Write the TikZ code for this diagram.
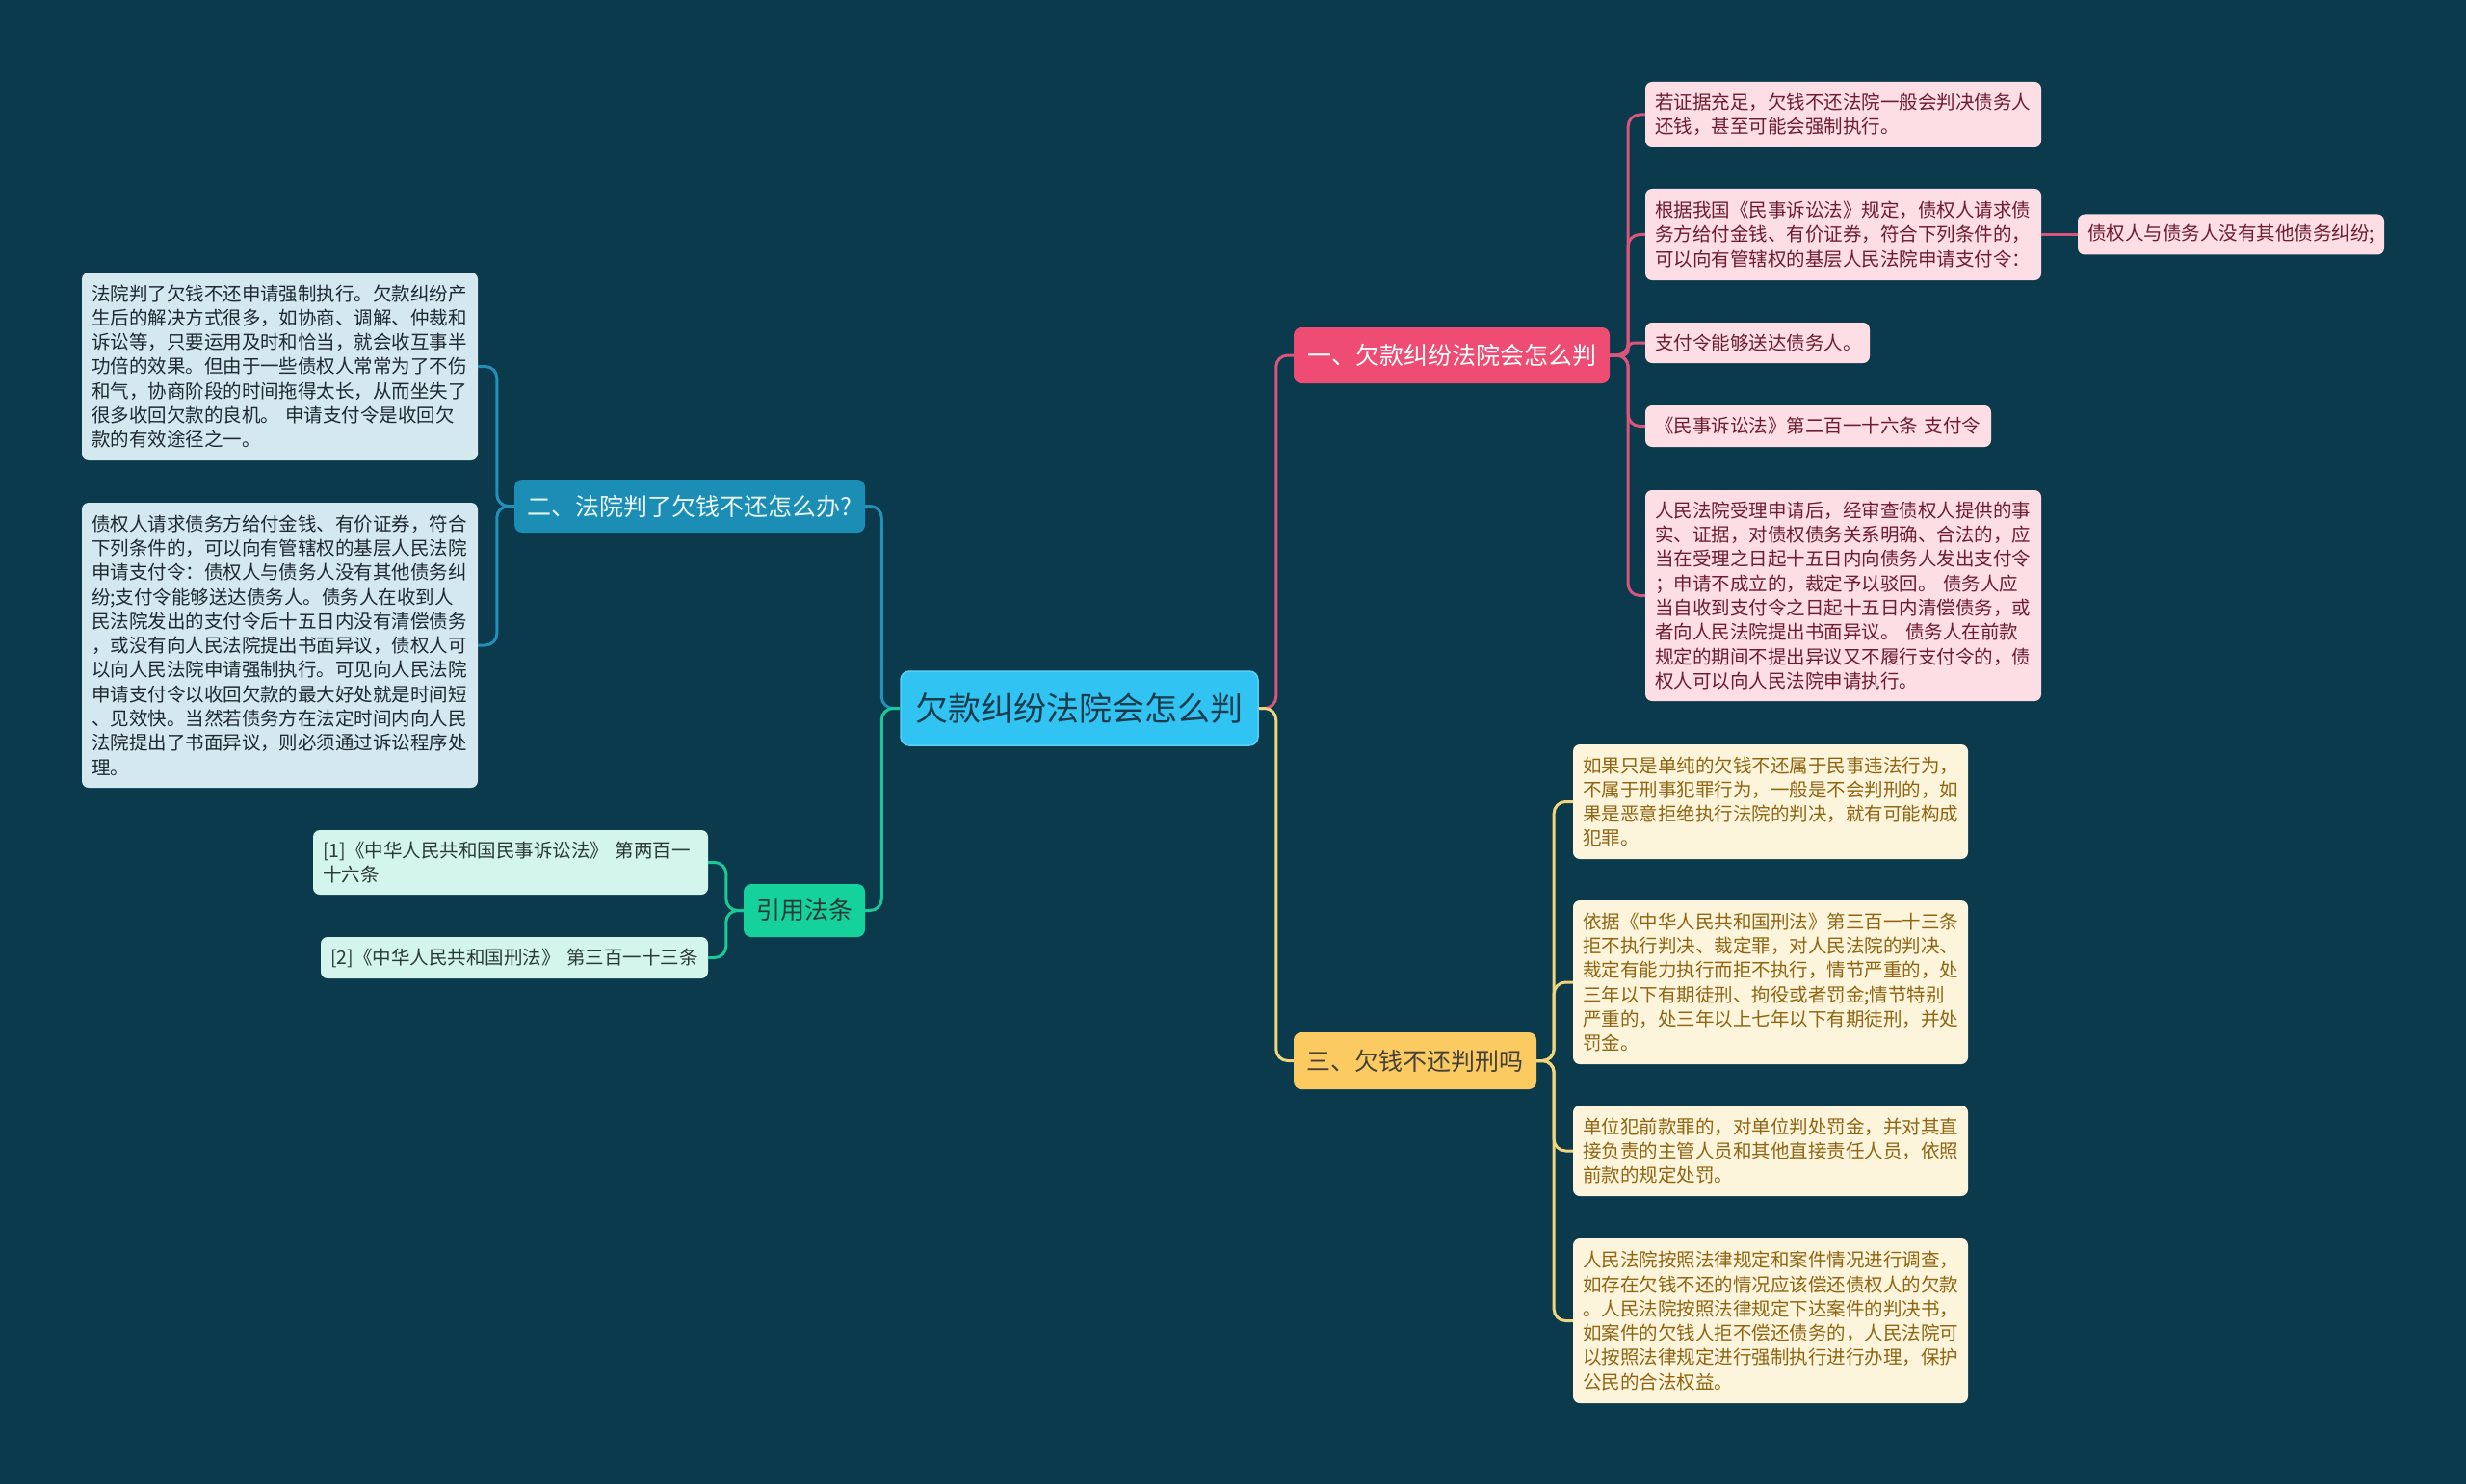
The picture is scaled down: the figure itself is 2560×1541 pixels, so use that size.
\documentclass[tikz,border=0pt]{standalone}
\usepackage{fontspec}
\setmainfont{Noto Sans CJK SC}
\definecolor{bg}{HTML}{0A3A4C}
\definecolor{cfill}{HTML}{31C4F2}
\definecolor{ctext}{HTML}{1B3C4C}
\definecolor{pkfill}{HTML}{EE4C72}
\definecolor{pkline}{HTML}{D9557C}
\definecolor{pkleaf}{HTML}{FCDEE4}
\definecolor{pktext}{HTML}{6E1C30}
\definecolor{blfill}{HTML}{1C8DB4}
\definecolor{blline}{HTML}{2290B8}
\definecolor{blleaf}{HTML}{D3E8EF}
\definecolor{bltext}{HTML}{1E2A30}
\definecolor{grfill}{HTML}{15D29D}
\definecolor{grline}{HTML}{19C998}
\definecolor{grleaf}{HTML}{D3F5EB}
\definecolor{grtext}{HTML}{2A3A36}
\definecolor{ywfill}{HTML}{FBCB62}
\definecolor{ywline}{HTML}{F1D57A}
\definecolor{ywleaf}{HTML}{FDF4DC}
\definecolor{ywtext}{HTML}{8F6512}
\tikzset{
  leafbox/.style={rounded corners=7pt, inner xsep=10pt, inner ysep=0pt, align=left, anchor=center,
    font=\fontsize{19.5}{25.3}\selectfont},
  pleaf/.style={leafbox, fill=pkleaf, text=pktext},
  yleaf/.style={leafbox, fill=ywleaf, text=ywtext},
  bleaf/.style={leafbox, fill=blleaf, text=bltext},
  gleaf/.style={leafbox, fill=grleaf, text=grtext},
  branchbox/.style={rounded corners=8pt, inner sep=0pt, font=\fontsize{25}{30}\selectfont},
  conn/.style={line width=3pt, rounded corners=12pt},
}
\begin{document}
\begin{tikzpicture}[x=1pt,y=-1pt]
\fill[bg] (0,0) rectangle (2560,1541);
\useasboundingbox (0,0) rectangle (2560,1541);

% center
\node[rounded corners=9pt, fill=cfill, draw=cfill!80!white, line width=1.5pt, text=ctext,
  minimum width=371pt, minimum height=77pt, inner sep=0pt, font=\fontsize{34}{40}\selectfont]
  (c) at (1120.5,735.5) {欠款纠纷法院会怎么判};

% branches
\node[branchbox, fill=pkfill, text=white, minimum width=328pt, minimum height=58pt] (b1) at (1507,369) {一、欠款纠纷法院会怎么判};
\node[branchbox, fill=blfill, text=white!92!cyan, minimum width=364pt, minimum height=55pt] (b2) at (716,525.5) {二、法院判了欠钱不还怎么办?};
\node[branchbox, fill=grfill, text=grtext, minimum width=126pt, minimum height=55pt] (b4) at (835,945.5) {引用法条};
\node[branchbox, fill=ywfill, text=black!85!yellow, minimum width=252pt, minimum height=59pt] (b3) at (1469,1101.5) {三、欠钱不还判刑吗};

% pink leaves
\node[pleaf, text width=391pt, minimum height=68pt] (L1) at (1913.5,119) {若证据充足，欠钱不还法院一般会判决债务人\\还钱，甚至可能会强制执行。};
\node[pleaf, text width=391pt, minimum height=95pt] (L2) at (1913.5,243.5) {根据我国《民事诉讼法》规定，债权人请求债\\务方给付金钱、有价证券，符合下列条件的，\\可以向有管辖权的基层人民法院申请支付令：};
\node[pleaf, text width=298pt, minimum height=42pt] (L2c) at (2316,243.5) {债权人与债务人没有其他债务纠纷;};
\node[pleaf, text width=213pt, minimum height=42pt] (L3) at (1824.5,356) {支付令能够送达债务人。};
\node[pleaf, text width=339pt, minimum height=43pt] (L4) at (1887.5,442.5) {《民事诉讼法》第二百一十六条 支付令};
\node[pleaf, text width=391pt, minimum height=219pt] (L5) at (1913.5,618.5) {人民法院受理申请后，经审查债权人提供的事\\实、证据，对债权债务关系明确、合法的，应\\当在受理之日起十五日内向债务人发出支付令\\；申请不成立的，裁定予以驳回。 债务人应\\当自收到支付令之日起十五日内清偿债务，或\\者向人民法院提出书面异议。 债务人在前款\\规定的期间不提出异议又不履行支付令的，债\\权人可以向人民法院申请执行。};

% yellow leaves
\node[yleaf, text width=390pt, minimum height=119pt] (Y1) at (1838,832.5) {如果只是单纯的欠钱不还属于民事违法行为，\\不属于刑事犯罪行为，一般是不会判刑的，如\\果是恶意拒绝执行法院的判决，就有可能构成\\犯罪。};
\node[yleaf, text width=390pt, minimum height=170pt] (Y2) at (1838,1020) {依据《中华人民共和国刑法》第三百一十三条\\拒不执行判决、裁定罪，对人民法院的判决、\\裁定有能力执行而拒不执行，情节严重的，处\\三年以下有期徒刑、拘役或者罚金;情节特别\\严重的，处三年以上七年以下有期徒刑，并处\\罚金。};
\node[yleaf, text width=390pt, minimum height=94pt] (Y3) at (1838,1195) {单位犯前款罪的，对单位判处罚金，并对其直\\接负责的主管人员和其他直接责任人员，依照\\前款的规定处罚。};
\node[yleaf, text width=390pt, minimum height=171pt] (Y4) at (1838,1371.5) {人民法院按照法律规定和案件情况进行调查，\\如存在欠钱不还的情况应该偿还债权人的欠款\\。人民法院按照法律规定下达案件的判决书，\\如案件的欠钱人拒不偿还债务的，人民法院可\\以按照法律规定进行强制执行进行办理，保护\\公民的合法权益。};

% blue leaves
\node[bleaf, text width=391pt, minimum height=195pt] (B1) at (290.5,380.5) {法院判了欠钱不还申请强制执行。欠款纠纷产\\生后的解决方式很多，如协商、调解、仲裁和\\诉讼等，只要运用及时和恰当，就会收互事半\\功倍的效果。但由于一些债权人常常为了不伤\\和气，协商阶段的时间拖得太长，从而坐失了\\很多收回欠款的良机。 申请支付令是收回欠\\款的有效途径之一。};
\node[bleaf, text width=391pt, minimum height=296pt] (B2) at (290.5,670) {债权人请求债务方给付金钱、有价证券，符合\\下列条件的，可以向有管辖权的基层人民法院\\申请支付令：债权人与债务人没有其他债务纠\\纷;支付令能够送达债务人。债务人在收到人\\民法院发出的支付令后十五日内没有清偿债务\\，或没有向人民法院提出书面异议，债权人可\\以向人民法院申请强制执行。可见向人民法院\\申请支付令以收回欠款的最大好处就是时间短\\、见效快。当然若债务方在法定时间内向人民\\法院提出了书面异议，则必须通过诉讼程序处\\理。};

% green leaves
\node[gleaf, text width=390pt, minimum height=67pt] (G1) at (530,895.5) {[1]《中华人民共和国民事诉讼法》 第两百一\\十六条};
\node[gleaf, text width=382pt, minimum height=43pt] (G2) at (534,994.5) {[2]《中华人民共和国刑法》 第三百一十三条};

% connectors from center
\draw[conn, pkline] (c.east) -- ++(18,0) |- (b1.west);
\draw[conn, ywline] (c.east) -- ++(18,0) |- (b3.west);
\draw[conn, blline] (c.west) -- ++(-19,0) |- (b2.east);
\draw[conn, grline] (c.west) -- ++(-19,0) |- (b4.east);

% branch 1
\foreach \n in {L1,L2,L4,L5}{\draw[conn, pkline] (b1.east) -- ++(19,0) |- (\n.west);}
\draw[conn, pkline, rounded corners=6pt] (b1.east) -- ++(19,0) |- (L3.west);
\draw[conn, pkline] (L2.east) -- (L2c.west);

% branch 3
\foreach \n in {Y1,Y2,Y3,Y4}{\draw[conn, ywline] (b3.east) -- ++(18,0) |- (\n.west);}

% branch 2
\foreach \n in {B1,B2}{\draw[conn, blline] (b2.west) -- ++(-18,0) |- (\n.east);}

% branch 4
\foreach \n in {G1,G2}{\draw[conn, grline] (b4.west) -- ++(-18,0) |- (\n.east);}
\end{tikzpicture}
\end{document}
